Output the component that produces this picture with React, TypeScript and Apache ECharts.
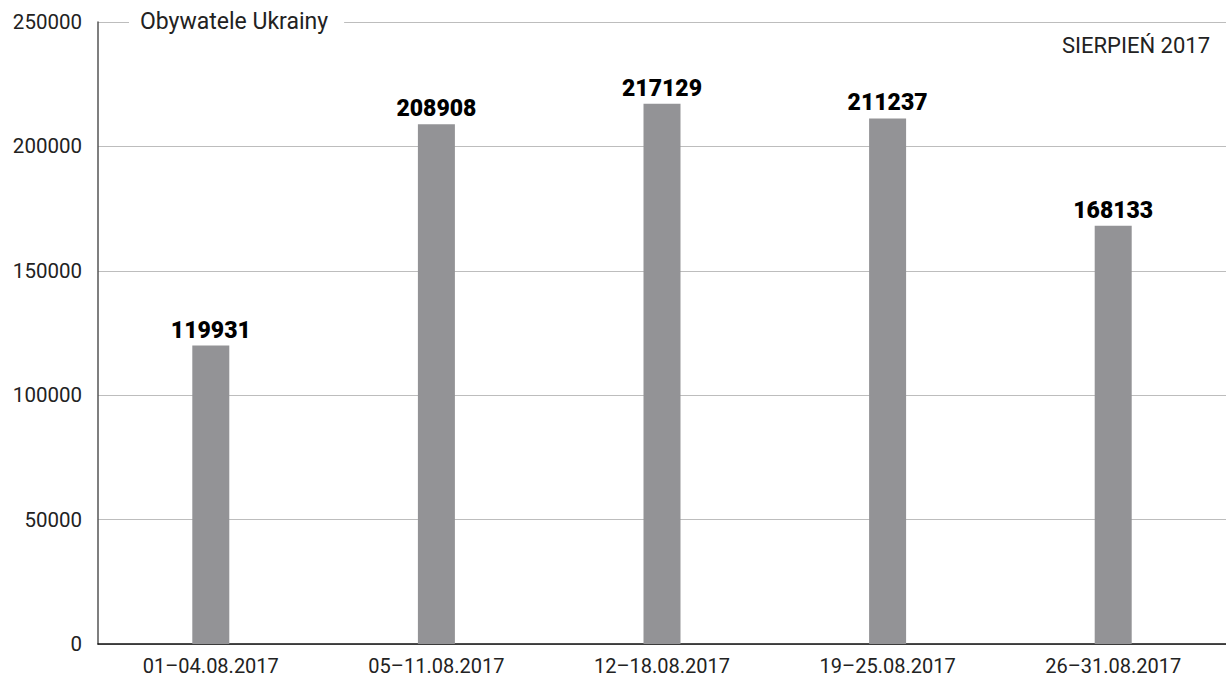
import React, { useEffect, useRef } from "react";
import * as echarts from "echarts";

const categories = ["01–04.08.2017", "05–11.08.2017", "12–18.08.2017", "19–25.08.2017", "26–31.08.2017"];
const values = [119931, 208908, 217129, 211237, 168133];
const yTicks = { min: 0, max: 250000, interval: 50000 };
const seriesTitle = "Obywatele Ukrainy";
const periodLabel = "SIERPIEŃ 2017";

export default function App() {
  const ref = useRef<HTMLDivElement>(null);

  useEffect(() => {
    if (!ref.current) return;
    const chart = echarts.init(ref.current, null, { renderer: "svg" });
    chart.setOption({
      animation: false,
      textStyle: { fontFamily: "Roboto" },
      grid: { left: 98, right: 0, top: 22, bottom: 38 },
      xAxis: {
        type: "category",
        data: categories,
        axisLine: { lineStyle: { color: "#111", width: 1.5 } },
        axisTick: { show: false },
        axisLabel: { color: "#222", fontSize: 20, margin: 12, fontFamily: "Roboto" },
      },
      yAxis: {
        type: "value",
        min: yTicks.min,
        max: yTicks.max,
        interval: yTicks.interval,
        axisLine: { show: true, lineStyle: { color: "#555", width: 1.5 } },
        axisTick: { show: false },
        axisLabel: {
          color: "#222",
          fontSize: 20.5,
          margin: 16,
          fontFamily: "Roboto",
          formatter: (v: number) => String(v),
        },
        splitLine: { lineStyle: { color: "#bdbdbd", width: 1 } },
      },
      series: [
        {
          type: "bar",
          data: values,
          barWidth: 37,
          itemStyle: { color: "#939396" },
          label: {
            show: true,
            position: "top",
            distance: 4,
            color: "#000",
            fontSize: 23,
            fontWeight: 900,
            fontFamily: "Roboto",
          },
        },
      ],
      graphic: [
        {
          type: "text",
          left: 129,
          top: 10,
          style: {
            text: seriesTitle,
            fontSize: 23,
            fontFamily: "Roboto",
            fill: "#222",
            backgroundColor: "#fff",
            padding: [0, 16, 0, 11],
          },
          z: 100,
        },
        {
          type: "text",
          right: 16,
          top: 34,
          style: {
            text: periodLabel,
            fontSize: 22,
            fontFamily: "Roboto",
            fill: "#222",
          },
          z: 100,
        },
      ],
    });
    return () => chart.dispose();
  }, []);

  return <div ref={ref} style={{ width: 1226, height: 682, position: "absolute", left: 0, top: 0 }} />;
}
